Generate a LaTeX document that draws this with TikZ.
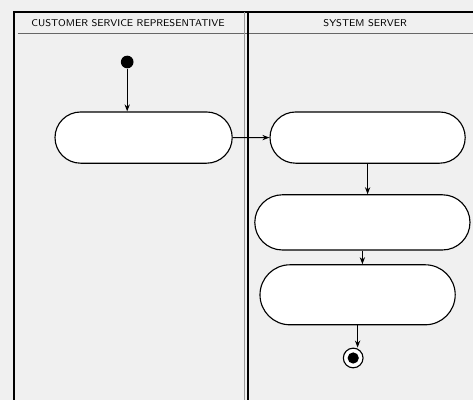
\documentclass[tikz,border=0pt]{standalone}
\usepackage{xcolor}
\usepackage{tikz}
\usetikzlibrary{arrows.meta,shapes.misc}

\tikzset{
    actividad/.style={rounded rectangle, draw=black, thick, fill=white, inner sep=0pt},
    flujo/.style={-{Stealth[length=5pt]}, thick},
    cabecera/.style={font=\sffamily\scriptsize}
}

\begin{document}
\begin{tikzpicture}
        \colorlet{fondoL}{black!6}
        \useasboundingbox (0,0) rectangle (11.825,10);
        \fill[fondoL] (0,0) rectangle (11.825,10);
        % carriles
        \draw[thick] (0.35,0) -- (0.35,9.7) -- (11.825,9.7);
        \draw[black!60] (0.45,9.175) -- (11.825,9.175);
        \draw[thick] (6.2,0) -- (6.2,9.7);
        \draw[black!40] (6.1,0) -- (6.1,9.7);
        \node[cabecera] (carrilA) at (3.2,9.43) {CUSTOMER SERVICE REPRESENTATIVE};
        \node[cabecera] (carrilB) at (9.13,9.43) {SYSTEM SERVER};
        % nodos
        \node[circle, fill=black, inner sep=0pt, minimum size=9pt] (inicio) at (3.18,8.45) {};
        \node[actividad, minimum width=4.43cm, minimum height=1.28cm] (actA) at (3.59,6.56) {};
        \node[actividad, minimum width=4.88cm, minimum height=1.28cm] (actB) at (9.19,6.56) {};
        \node[actividad, minimum width=5.38cm, minimum height=1.38cm] (actC) at (9.06,4.44) {};
        \node[actividad, minimum width=4.88cm, minimum height=1.5cm] (actD) at (8.94,2.63) {};
        \node[circle, draw=black, thick, fill=white, inner sep=0pt, minimum size=14pt] (fin) at (8.83,1.05) {};
        \node[circle, fill=black, inner sep=0pt, minimum size=8pt] at (fin) {};
        % flujos
        \draw[flujo] (inicio) -- (inicio |- actA.north);
        \draw[flujo] (actA) -- (actB);
        \draw[flujo] (actB) -- (actB |- actC.north);
        \draw[flujo] (actC) -- (actC |- actD.north);
        \draw[flujo] (actD) -- (actD |- fin.north);
    \end{tikzpicture}
\end{document}
